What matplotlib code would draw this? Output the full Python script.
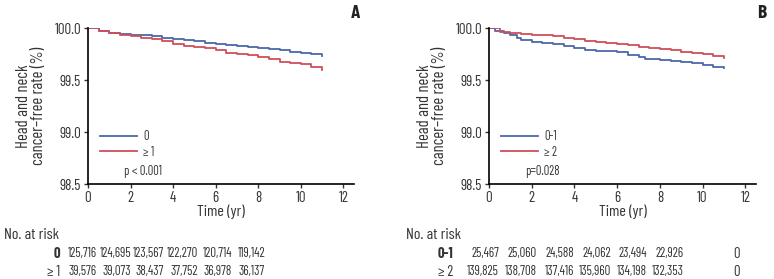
import numpy as np
import matplotlib
matplotlib.use('Agg')
import matplotlib.pyplot as plt

plt.rcParams['font.family'] = ['Barlow Condensed', 'Archivo Narrow', 'DejaVu Sans']

# Du lieu doc tu hinh - panel A
a_t = [0, 0.5, 1, 1.5, 2, 2.5, 3, 3.5, 4, 4.5, 5, 5.5, 6, 6.5, 7, 7.5, 8, 8.5, 9, 9.5, 10, 10.5, 11]
a_g0 = [100, 99.971, 99.955, 99.946, 99.936, 99.930, 99.920, 99.907, 99.891, 99.880, 99.872, 99.859,
        99.850, 99.840, 99.827, 99.818, 99.808, 99.795, 99.786, 99.773, 99.760, 99.747, 99.735]
a_g1 = [100, 99.968, 99.949, 99.936, 99.920, 99.907, 99.891, 99.872, 99.843, 99.824, 99.818, 99.805,
        99.789, 99.762, 99.747, 99.738, 99.725, 99.703, 99.677, 99.664, 99.651, 99.629, 99.600]

# panel B
b_t_red = [0, 0.5, 1, 1.5, 2, 2.5, 3, 3.5, 4, 4.5, 5, 5.5, 6, 6.5, 7, 7.5, 8, 8.5, 9, 9.5, 10, 10.5, 11]
b_ge2 = [100, 99.965, 99.952, 99.946, 99.936, 99.930, 99.920, 99.907, 99.894, 99.878, 99.869, 99.859,
         99.846, 99.834, 99.821, 99.811, 99.799, 99.786, 99.773, 99.760, 99.747, 99.731, 99.709]
b_t_blue = [0, 0.3, 0.7, 1, 1.3, 1.5, 2, 2.5, 3, 3.5, 4, 4.5, 5, 5.5, 6, 6.5, 7, 7.3, 8, 8.5, 9, 9.5, 10, 10.5, 11]
b_01 = [100, 99.974, 99.952, 99.936, 99.900, 99.888, 99.866, 99.853, 99.843, 99.824, 99.805, 99.792,
        99.783, 99.776, 99.767, 99.744, 99.725, 99.706, 99.696, 99.680, 99.674, 99.661, 99.645, 99.629, 99.613]

# bang so nguoi co nguy co
risk_a_labels = ['0', '≥ 1']
risk_a = [['125,716', '124,695', '123,567', '122,270', '120,714', '119,142'],
          ['39,576', '39,073', '38,437', '37,752', '36,978', '36,137']]
risk_b_labels = ['0-1', '≥ 2']
risk_b = [['25,467', '25,060', '24,588', '24,062', '23,494', '22,926', '0'],
          ['139,825', '138,708', '137,416', '135,960', '134,198', '132,353', '0']]

blue = '#4a68a8'
red = '#cf4e5c'
txtc = '#333333'
fs = 10.8
fs_tab = 9.3

W, H = 774, 279
fig = plt.figure(figsize=(W / 100, H / 100), dpi=100)


def px(x, y):
    return x / W, 1 - y / H


def make_axes(x0, x1, series, legend_labels, ptext):
    ax = fig.add_axes([x0 / W, 1 - 184 / H, (x1 - x0) / W, 156 / H])
    for (t, s), c, lab in zip(series, [blue, red], legend_labels):
        ax.plot(t, s, drawstyle='steps-post', color=c, lw=1.3, label=lab)
    ax.set_xlim(0, 12.5)
    ax.set_ylim(98.5, 100.0)
    ax.set_xticks(range(0, 13, 2))
    ax.set_yticks([98.5, 99.0, 99.5, 100.0])
    ax.set_yticklabels(['98.5', '99.0', '99.5', '100.0'])
    ax.spines['top'].set_visible(False)
    ax.spines['right'].set_visible(False)
    ax.spines['left'].set_linewidth(1.2)
    ax.spines['bottom'].set_linewidth(1.2)
    ax.tick_params(labelsize=fs, length=3, width=1, color=txtc, labelcolor=txtc, pad=2)
    ax.set_xlabel('Time (yr)', fontsize=11.5, color=txtc, labelpad=0)
    ax.set_ylabel('Head and neck\ncancer\u2013free rate (%)', fontsize=12, color=txtc,
                  linespacing=1.0, labelpad=6)
    leg = ax.legend(loc='lower left', bbox_to_anchor=(0.025, 0.13), frameon=False, fontsize=9,
                    handlelength=3.0, handletextpad=0.5, labelspacing=0.2, borderaxespad=0)
    for txt in leg.get_texts():
        txt.set_color(txtc)
    ax.text(0.135, 0.06, ptext, transform=ax.transAxes, fontsize=9, color=txtc)
    return ax


axA = make_axes(88, 354, [(a_t, a_g0), (a_t, a_g1)], ['0', '≥ 1'], 'p < 0.001')
axB = make_axes(489, 756, [(b_t_blue, b_01), (b_t_red, b_ge2)], ['0-1', '≥ 2'], 'p=0.028')

fig.text(*px(355, 14), 'A', fontsize=14, fontweight='bold', ha='center', va='center', color='#222222')
fig.text(*px(762, 14), 'B', fontsize=14, fontweight='bold', ha='center', va='center', color='#222222')

# bang A
fig.text(*px(4, 235), 'No. at risk', fontsize=11.5, va='center', color=txtc)
cols_a = [97, 131, 164, 198, 232, 265]
for r, (lab, row) in enumerate(zip(risk_a_labels, risk_a)):
    y = 254 + r * 18
    fig.text(*px(60, y), lab, fontsize=10.5, ha='right', va='center',
             fontweight='bold' if r == 0 else 'normal', color=txtc)
    for cx, v in zip(cols_a, row):
        fig.text(*px(cx, y), v, fontsize=fs_tab, ha='right', va='center', color=txtc)

# bang B
fig.text(*px(406, 235), 'No. at risk', fontsize=11.5, va='center', color=txtc)
cols_b = [499, 537, 574, 611, 647, 684]
for r, (lab, row) in enumerate(zip(risk_b_labels, risk_b)):
    y = 254 + r * 18
    fig.text(*px(453, y), lab, fontsize=10.5, ha='right', va='center',
             fontweight='bold' if r == 0 else 'normal', color=txtc)
    for cx, v in zip(cols_b, row[:6]):
        fig.text(*px(cx, y), v, fontsize=fs_tab, ha='right', va='center', color=txtc)
    fig.text(*px(736, y), row[6], fontsize=10.5, ha='center', va='center', color=txtc)

fig.savefig('out.png', dpi=100)
